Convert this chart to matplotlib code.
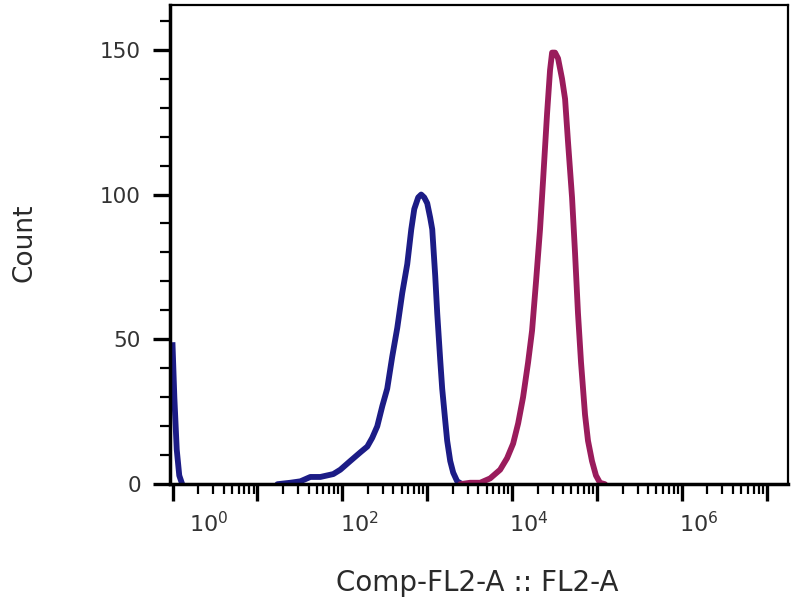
import numpy as np
import matplotlib
matplotlib.use("Agg")
import matplotlib.pyplot as plt
from matplotlib.ticker import LogLocator, NullFormatter, MultipleLocator
import matplotlib.transforms as mtransforms

# histogram (x = fluorescence, y = count)
# spike of events piled up at the left edge
spike_x = [1.0, 1.05, 1.12, 1.2, 1.3]
spike_y = [48, 30, 12, 3, 0]

blue_x = [17.2, 24.4, 32.1, 42.0, 55.1, 78.3, 94.7, 124, 163, 197, 225,
          258, 296, 338, 387, 444, 508, 582, 649, 704, 783, 849, 922, 1000, 1084, 1146,
          1242, 1312, 1422, 1501, 1629, 1718, 1866, 2023, 2254, 2582]
blue_y = [0, 0.5, 1, 2.5, 2.5, 3.5, 5, 8, 11, 13, 16,
          20, 27, 33, 44, 54, 66, 76, 88, 95, 99, 100, 99, 97, 92, 88,
          72, 59, 43, 33, 22, 15, 8, 4, 1, 0]

red_x = [2445, 3206, 4207, 5508, 7227, 8730, 10280, 11780, 13460, 15420, 17180, 19140,
         21330, 23170, 25820, 27990, 29580, 32060, 34770, 38730, 42070, 45600, 50820,
         55080, 59710, 64860, 72270, 78340, 87300, 97250, 108400, 124200]
red_y = [0, 0.5, 0.5, 2, 5, 9, 14, 21, 30, 42, 53, 70,
         88, 105, 128, 143, 149, 149, 147, 140, 133, 118, 99,
         80, 59, 42, 24, 15, 8, 3, 0.5, 0]

x_major = [1e0, 1e1, 1e2, 1e3, 1e4, 1e5, 1e6, 1e7]
x_labels = ['$10^0$', '', '$10^2$', '', '$10^4$', '', '$10^6$', '']
y_major = [0, 50, 100, 150]

blue = '#1c1c86'
red = '#9a1c5c'

fig = plt.figure(figsize=(8, 6), dpi=100)
ax = fig.add_axes([0.2125, 0.193, 0.7725, 0.799])

ax.plot(spike_x, spike_y, color=blue, lw=4.2, solid_joinstyle='round')
ax.plot(blue_x, blue_y, color=blue, lw=4.2, solid_joinstyle='round', solid_capstyle='round')
ax.plot(red_x, red_y, color=red, lw=4.2, solid_joinstyle='round', solid_capstyle='round')

ax.set_xscale('log')
ax.set_xlim(10 ** -0.03, 10 ** 7.25)
ax.set_ylim(0, 165.5)

ax.set_xticks(x_major)
ax.set_xticklabels(x_labels)
ax.xaxis.set_minor_locator(LogLocator(base=10, subs=np.arange(2, 10)))
ax.xaxis.set_minor_formatter(NullFormatter())
ax.set_yticks(y_major)
ax.yaxis.set_minor_locator(MultipleLocator(10))

ax.tick_params(axis='both', which='major', length=12, width=2.4, direction='out',
               labelcolor='#333333')
ax.tick_params(axis='both', which='minor', length=7, width=1.6, direction='out')
ax.tick_params(axis='x', which='major', pad=7, labelsize=16)
ax.tick_params(axis='y', which='major', pad=9, labelsize=15.5)

# decade labels sit to the right of their ticks in the original
for i, lab in enumerate(ax.get_xticklabels()):
    dx = 36 if i == 0 else 17
    lab.set_transform(lab.get_transform() + mtransforms.ScaledTranslation(dx / 100, 0, fig.dpi_scale_trans))

for s in ['left', 'bottom']:
    ax.spines[s].set_linewidth(2.5)
for s in ['top', 'right']:
    ax.spines[s].set_linewidth(1.6)

ax.set_ylabel('Count', fontsize=19, color='#2a2a2a')
ax.yaxis.set_label_coords(-0.214, 0.503)
ax.set_xlabel('Comp-FL2-A :: FL2-A', fontsize=20, color='#2a2a2a')
ax.xaxis.set_label_coords(0.497, -0.176)

fig.savefig('out.png', dpi=100)
